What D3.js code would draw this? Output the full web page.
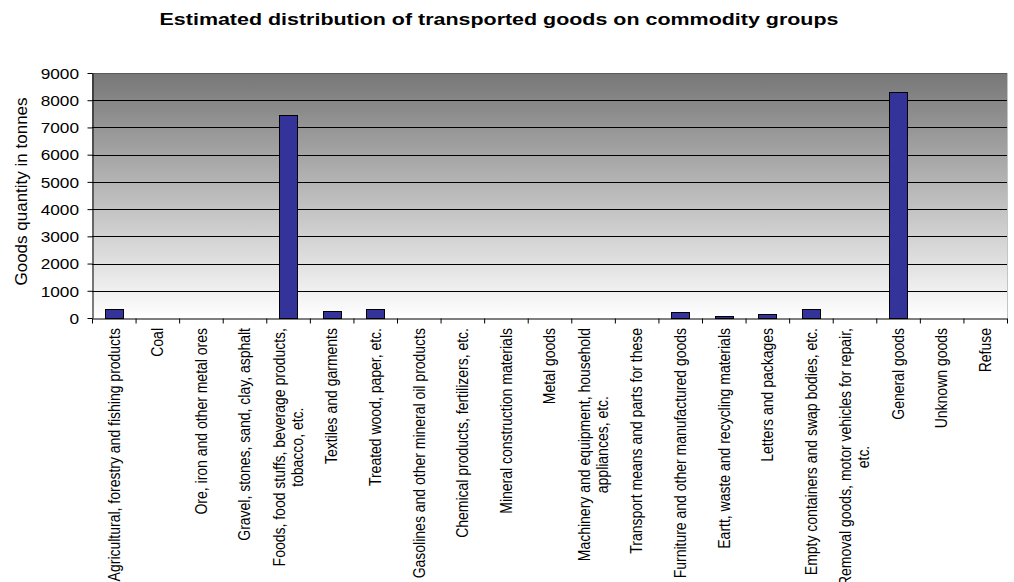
<!DOCTYPE html>
<html>
<head>
<meta charset="utf-8">
<script src="https://cdn.jsdelivr.net/npm/d3@7/dist/d3.min.js"></script>
<style>
  html, body { margin: 0; padding: 0; background: #fff; }
  svg { display: block; }
  text { font-family: "Liberation Sans", Arial, sans-serif; fill: #000; }
</style>
</head>
<body>
<svg id="chart" width="1014" height="582"></svg>
<script>
// ---- data ----
const categories = [
  "Agricultural, forestry and fishing products",
  "Coal",
  "Ore, iron and other metal ores",
  "Gravel, stones, sand, clay, asphalt",
  "Foods, food stuffs, beverage products,|tobacco, etc.",
  "Textiles and garments",
  "Treated wood, paper, etc.",
  "Gasolines and other mineral oil products",
  "Chemical products, fertilizers, etc.",
  "Mineral construction materials",
  "Metal goods",
  "Machinery and equipment, household|appliances, etc.",
  "Transport means and parts for these",
  "Furniture and other manufactured goods",
  "Eartt, waste and recycling materials",
  "Letters and packages",
  "Empty containers and swap bodies, etc.",
  "Removal goods, motor vehicles for repair,|etc.",
  "General goods",
  "Unknown goods",
  "Refuse"
];
const values = [320, 0, 0, 0, 7450, 245, 320, 0, 0, 0, 0, 0, 0, 225, 85, 135, 320, 0, 8300, 0, 0];
const yTicks = [0, 1000, 2000, 3000, 4000, 5000, 6000, 7000, 8000, 9000];
const titleText = "Estimated distribution of transported goods on commodity groups";
const yLabelText = "Goods quantity in tonnes";

(function () {
// ---- layout ----
const pLeft = 92, pRight = 1007, pTop = 73, pBottom = 318;
const svg = d3.select("#chart");

const x = d3.scaleBand().domain(categories).range([pLeft, pRight]).padding(0);
const xIdx = d3.scaleLinear().domain([0, categories.length]).range([pLeft, pRight]);
const y = d3.scaleLinear().domain([0, 9000]).range([pBottom, pTop]);

// gradient background
const defs = svg.append("defs");
const grad = defs.append("linearGradient").attr("id", "bg")
  .attr("x1", 0).attr("y1", 0).attr("x2", 0).attr("y2", 1);
grad.append("stop").attr("offset", "0%").attr("stop-color", "#777777");
grad.append("stop").attr("offset", "100%").attr("stop-color", "#ffffff");

svg.append("rect")
  .attr("x", pLeft).attr("y", pTop)
  .attr("width", pRight - pLeft).attr("height", pBottom - pTop)
  .attr("fill", "url(#bg)");

// gridlines
svg.append("g").selectAll("line")
  .data(yTicks.filter(d => d > 0 && d < 9000))
  .join("line")
  .attr("x1", pLeft).attr("x2", pRight)
  .attr("y1", d => Math.round(y(d)) + 0.5).attr("y2", d => Math.round(y(d)) + 0.5)
  .attr("stroke", "#000").attr("stroke-width", 1);

// top and right border
svg.append("line")
  .attr("x1", pLeft).attr("x2", pRight)
  .attr("y1", Math.round(y(9000)) + 0.5).attr("y2", Math.round(y(9000)) + 0.5)
  .attr("stroke", "#5a5a5a");
svg.append("line")
  .attr("x1", pRight + 0.5).attr("x2", pRight + 0.5)
  .attr("y1", pTop).attr("y2", pBottom)
  .attr("stroke", "#c4c4c4");

// bars
const barW = x.bandwidth() * 0.41;
svg.append("g").selectAll("rect")
  .data(values.map((v, i) => ({ c: categories[i], v })))
  .join("rect")
  .attr("x", d => Math.round(x(d.c) + x.bandwidth() / 2 - barW / 2) + 0.5)
  .attr("y", d => Math.round(y(d.v)) + 0.5)
  .attr("width", Math.round(barW))
  .attr("height", d => Math.max(0, Math.round(y(0)) - Math.round(y(d.v))))
  .attr("fill", "#333399")
  .attr("stroke", "#000")
  .attr("stroke-width", 1);

// y axis
const yAxis = svg.append("g")
  .attr("transform", `translate(${pLeft + 0.5},0)`)
  .call(d3.axisLeft(y).tickValues(yTicks).tickSize(5).tickSizeOuter(0).tickFormat(d => d));
yAxis.select(".domain").attr("stroke", "#000");
yAxis.selectAll(".tick line").attr("stroke", "#000");
yAxis.selectAll(".tick text")
  .attr("x", 0)
  .attr("dy", "0.35em")
  .attr("transform", "translate(-13.5,0) scale(1.15,1)")
  .style("font-size", "15px")
  .style("font-family", "'Liberation Sans', Arial, sans-serif");

// x axis (ticks at category boundaries)
const xAxis = svg.append("g")
  .attr("transform", `translate(0,${pBottom + 0.5})`)
  .call(d3.axisBottom(xIdx).tickValues(d3.range(categories.length + 1))
    .tickSize(5).tickSizeOuter(0).tickFormat(""));
xAxis.select(".domain").attr("stroke", "#000");
xAxis.selectAll(".tick line").attr("stroke", "#000");

// x labels (rotated, multi-line centered)
const fs = 14, lh = 15.4;
const labG = svg.append("g");
categories.forEach(c => {
  const lines = c.split("|");
  const g = labG.append("g")
    .attr("transform", `translate(${x(c) + x.bandwidth() / 2},328) scale(1.17,1) rotate(-90)`);
  const t = g.append("text").style("font-size", fs + "px").attr("text-anchor", "middle");
  const spans = lines.map((ln, i) => t.append("tspan")
    .attr("y", (i - (lines.length - 1) / 2) * lh + 0.35 * fs)
    .text(ln));
  let maxW = 0;
  spans.forEach(s => { maxW = Math.max(maxW, s.node().getComputedTextLength()); });
  spans.forEach(s => s.attr("x", -maxW / 2));
});

// title
svg.append("text")
  .attr("transform", "translate(499,24.5) scale(1.3,1)")
  .attr("text-anchor", "middle")
  .style("font-size", "16.5px")
  .style("font-weight", "bold")
  .text(titleText);

// y label
svg.append("text")
  .attr("transform", "translate(27,191.5) rotate(-90)")
  .attr("text-anchor", "middle")
  .style("font-size", "17px")
  .text(yLabelText);
})();
</script>
</body>
</html>
